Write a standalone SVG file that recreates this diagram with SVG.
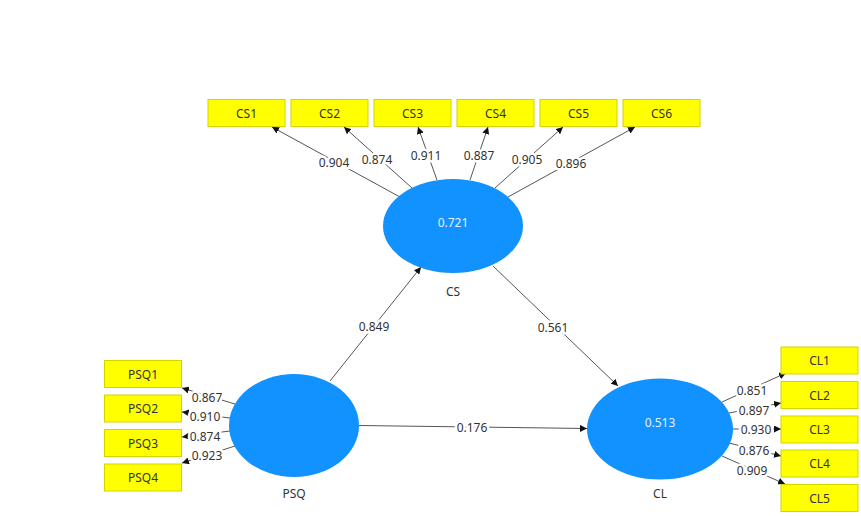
<svg xmlns="http://www.w3.org/2000/svg" width="861" height="516" viewBox="0 0 861 516">
<style>
.ind rect{fill:#FFFF00;stroke:#D4D400;stroke-width:1}
.ind text{font-family:"Noto Sans","Open Sans","Liberation Sans",sans-serif;font-size:12px;fill:#333;text-anchor:middle;dominant-baseline:central}
.lat ellipse{fill:#1192FF}
.lat text{font-family:"Noto Sans","Open Sans","Liberation Sans",sans-serif;font-size:12px;text-anchor:middle;dominant-baseline:central}
.lat .val{fill:#E8F0FF}
.lat .nm{fill:#333}
#connectors line{stroke:#555;stroke-width:1;marker-end:url(#ah)}
#connectors text{font-family:"Noto Sans","Open Sans","Liberation Sans",sans-serif;font-size:12px;fill:#333;text-anchor:middle;dominant-baseline:central;paint-order:stroke;stroke:#fff;stroke-width:5px;stroke-linejoin:round}
</style>
<defs>
<marker id="ah" viewBox="0 0 10 10" refX="10" refY="5" markerWidth="7" markerHeight="7" markerUnits="userSpaceOnUse" orient="auto">
<path d="M0,0 L10,5 L0,10 z" fill="#111"/>
</marker>
</defs>
<rect width="861" height="516" fill="#fff"/>
<g id="connectors">
<line x1="400" y1="197" x2="272" y2="127"/>
<line x1="412" y1="188" x2="344" y2="127"/>
<line x1="437" y1="180" x2="418" y2="127"/>
<line x1="470" y1="180" x2="488" y2="127"/>
<line x1="495" y1="188" x2="563" y2="127"/>
<line x1="508" y1="197" x2="635" y2="127"/>
<line x1="235" y1="404" x2="182" y2="388"/>
<line x1="230" y1="418" x2="182" y2="412"/>
<line x1="230" y1="431" x2="182" y2="437"/>
<line x1="235" y1="446" x2="182" y2="463"/>
<line x1="722" y1="402" x2="786" y2="373"/>
<line x1="729" y1="413" x2="781" y2="403"/>
<line x1="733" y1="429" x2="781" y2="429"/>
<line x1="729" y1="443" x2="781" y2="456"/>
<line x1="722" y1="456" x2="785" y2="484"/>
<line x1="330" y1="381" x2="421" y2="267"/>
<line x1="493" y1="266" x2="618" y2="386"/>
<line x1="359" y1="425.5" x2="587" y2="428.5"/>
<text x="334" y="162">0.904</text>
<text x="377" y="159">0.874</text>
<text x="426" y="155">0.911</text>
<text x="479" y="155">0.887</text>
<text x="527" y="159">0.905</text>
<text x="571" y="163">0.896</text>
<text x="207" y="397">0.867</text>
<text x="205" y="416.5">0.910</text>
<text x="205" y="436">0.874</text>
<text x="207" y="455">0.923</text>
<text x="752" y="390">0.851</text>
<text x="754" y="410">0.897</text>
<text x="756" y="429">0.930</text>
<text x="754" y="450">0.876</text>
<text x="752" y="470.5">0.909</text>
<text x="374" y="326">0.849</text>
<text x="553" y="327">0.561</text>
<text x="472" y="427">0.176</text>
</g>
<g id="CS" class="lat"><ellipse cx="453" cy="226" rx="70" ry="47"/><text class="val" x="453" y="222">0.721</text><text class="nm" x="453" y="291">CS</text></g>
<g id="PSQ" class="lat"><ellipse cx="294" cy="425.5" rx="65" ry="51.5"/><text class="nm" x="294" y="493">PSQ</text></g>
<g id="CL" class="lat"><ellipse cx="660" cy="429" rx="73" ry="50.5"/><text class="val" x="660" y="422">0.513</text><text class="nm" x="660" y="493">CL</text></g>
<g id="CS1" class="ind"><rect x="208" y="99.5" width="77" height="27"/><text x="246.5" y="113">CS1</text></g>
<g id="CS2" class="ind"><rect x="291" y="99.5" width="77" height="27"/><text x="329.5" y="113">CS2</text></g>
<g id="CS3" class="ind"><rect x="374" y="99.5" width="77" height="27"/><text x="412.5" y="113">CS3</text></g>
<g id="CS4" class="ind"><rect x="457" y="99.5" width="77" height="27"/><text x="495.5" y="113">CS4</text></g>
<g id="CS5" class="ind"><rect x="540" y="99.5" width="77" height="27"/><text x="578.5" y="113">CS5</text></g>
<g id="CS6" class="ind"><rect x="623" y="99.5" width="77" height="27"/><text x="661.5" y="113">CS6</text></g>
<g id="PSQ1" class="ind"><rect x="104.5" y="360.5" width="77" height="27"/><text x="143" y="374">PSQ1</text></g>
<g id="PSQ2" class="ind"><rect x="104.5" y="395" width="77" height="27"/><text x="143" y="408.5">PSQ2</text></g>
<g id="PSQ3" class="ind"><rect x="104.5" y="429.5" width="77" height="27"/><text x="143" y="443">PSQ3</text></g>
<g id="PSQ4" class="ind"><rect x="104.5" y="464" width="77" height="27"/><text x="143" y="477.5">PSQ4</text></g>
<g id="CL1" class="ind"><rect x="781" y="347" width="77" height="27"/><text x="819.5" y="360.5">CL1</text></g>
<g id="CL2" class="ind"><rect x="781" y="381.5" width="77" height="27"/><text x="819.5" y="395">CL2</text></g>
<g id="CL3" class="ind"><rect x="781" y="416" width="77" height="27"/><text x="819.5" y="429.5">CL3</text></g>
<g id="CL4" class="ind"><rect x="781" y="450" width="77" height="27"/><text x="819.5" y="463.5">CL4</text></g>
<g id="CL5" class="ind"><rect x="781" y="484.5" width="77" height="27"/><text x="819.5" y="498">CL5</text></g>
</svg>
